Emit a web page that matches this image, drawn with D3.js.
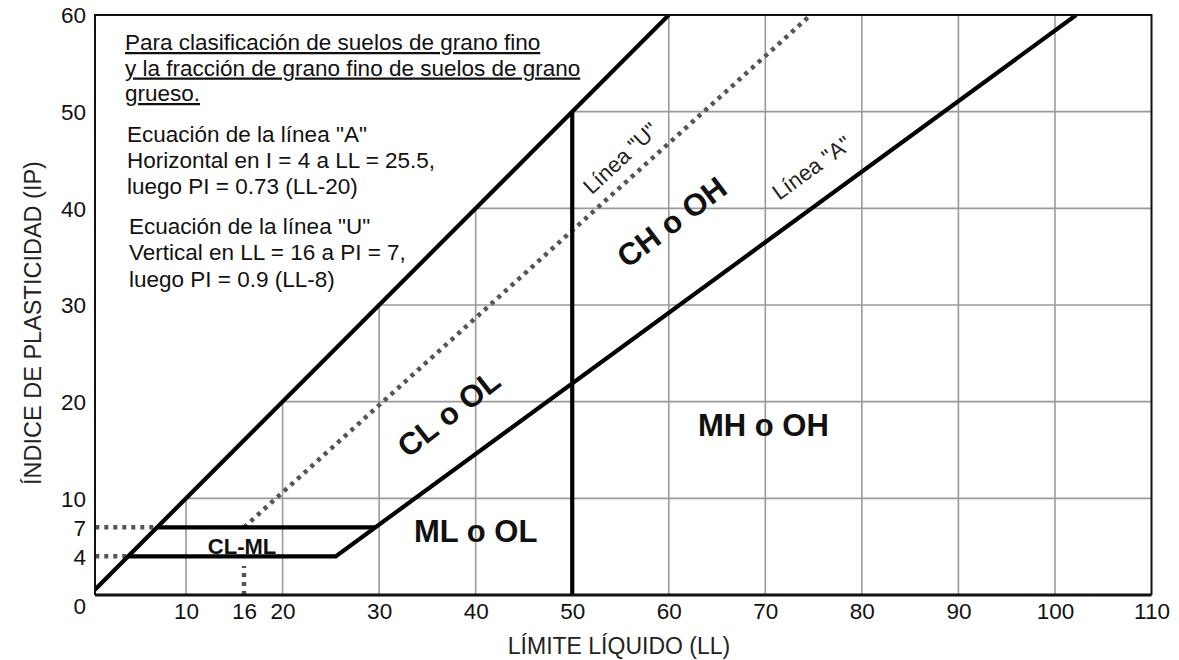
<!DOCTYPE html>
<html>
<head>
<meta charset="utf-8">
<script src="https://cdn.jsdelivr.net/npm/d3@7"></script>
<style>
  html, body { margin: 0; padding: 0; background: #fff; }
  svg { display: block; font-family: "Liberation Sans", Arial, sans-serif; }
</style>
</head>
<body>
<svg id="chart" width="1179" height="660"></svg>
<script>
// Plasticity chart (Casagrande) – liquid limit vs plasticity index

const xTicks = [10, 16, 20, 30, 40, 50, 60, 70, 80, 90, 100, 110];
const yTicks = [0, 4, 7, 10, 20, 30, 40, 50, 60];
const gridLL = [10, 20, 30, 40, 50, 60, 70, 80, 90, 100];
const gridPI = [10, 20, 30, 40, 50];

// Upper limit line PI = LL
const upperLine = [[0, 0], [60, 60]];
// "A" line: horizontal at PI = 4 up to LL = 25.5, then PI = 0.73 (LL - 20)
const aLine = [[4, 4], [25.5, 4], [102.2, 60]];
// "U" line: vertical at LL = 16 up to PI = 7, then PI = 0.9 (LL - 8)
const uLine = [[16, 7], [74.7, 60]];
const uFoot = [[16, 0], [16, 3]];
// CL-ML band upper edge at PI = 7
const clmlTop = [[7, 7], [29.6, 7]];
// LL = 50 divider
const ll50 = [[50, 0], [50, 50]];
// dotted leaders from the PI axis
const leader4 = [[0.6, 4], [4, 4]];
const leader7 = [[0.6, 7], [7, 7]];

const zoneLabels = [
  { text: "CH o OH", LL: 60.3, PI: 38.6, angle: -37, size: 31 },
  { text: "CL o OL", LL: 37.2, PI: 18.8, angle: -38, size: 31 },
  { text: "MH o OH", LL: 69.8, PI: 17.6, angle: 0, size: 31 },
  { text: "ML o OL", LL: 40.0, PI: 6.6, angle: 0, size: 31 },
  { text: "CL-ML", LL: 15.8, PI: 5.0, angle: 0, size: 22 }
];
const lineLabels = [
  { text: "Línea \"U\"", LL: 55.0, PI: 45.2, angle: -43 },
  { text: "Línea \"A\"", LL: 74.8, PI: 44.2, angle: -36 }
];

const noteTitle = [
  "Para clasificación de suelos de grano fino",
  "y la fracción de grano fino de suelos de grano",
  "grueso."
];
const noteA = [
  "Ecuación de la línea \"A\"",
  "Horizontal en I = 4 a LL = 25.5,",
  "luego PI = 0.73 (LL-20)"
];
const noteU = [
  "Ecuación de la línea \"U\"",
  "Vertical en LL = 16 a PI = 7,",
  "luego PI = 0.9 (LL-8)"
];

const svg = d3.select("#chart");
const frame = { left: 95, right: 1151.5, top: 15, bottom: 595 };

const x = d3.scaleLinear().domain([0, 110]).range([89.5, 1151.5]);
const y = d3.scaleLinear().domain([0, 60]).range([frame.bottom, frame.top]);
const line = d3.line().x(d => x(d[0])).y(d => y(d[1]));

svg.append("clipPath").attr("id", "plot-clip")
  .append("rect")
  .attr("x", frame.left).attr("y", frame.top)
  .attr("width", frame.right - frame.left)
  .attr("height", frame.bottom - frame.top);

const plot = svg.append("g").attr("clip-path", "url(#plot-clip)");

// grid only below the PI = LL line
plot.append("g").selectAll("line").data(gridLL).join("line")
  .attr("x1", d => x(d)).attr("x2", d => x(d))
  .attr("y1", y(0)).attr("y2", d => y(Math.min(d, 60)))
  .attr("stroke", "#9a9a9a").attr("stroke-width", 1.6);
plot.append("g").selectAll("line").data(gridPI).join("line")
  .attr("x1", d => x(d)).attr("x2", x(110))
  .attr("y1", d => y(d)).attr("y2", d => y(d))
  .attr("stroke", "#9a9a9a").attr("stroke-width", 1.6);

// frame
svg.append("path")
  .attr("d", `M${frame.left},${frame.bottom}V${frame.top}H${frame.right}V${frame.bottom}`)
  .attr("fill", "none").attr("stroke", "#111").attr("stroke-width", 2);
svg.append("line")
  .attr("x1", frame.left).attr("x2", frame.right)
  .attr("y1", frame.bottom).attr("y2", frame.bottom)
  .attr("stroke", "#111").attr("stroke-width", 3);

// dotted lines
const dotted = [uLine, uFoot, leader4, leader7];
plot.append("g").selectAll("path").data(dotted).join("path")
  .attr("d", line)
  .attr("fill", "none")
  .attr("stroke", "#555")
  .attr("stroke-width", 4.5)
  .attr("stroke-dasharray", "4 5");

// heavy boundary lines
const heavy = [upperLine, aLine, clmlTop, ll50];
plot.append("g").selectAll("path").data(heavy).join("path")
  .attr("d", line)
  .attr("fill", "none")
  .attr("stroke", "#000")
  .attr("stroke-width", 4.2)
  .attr("stroke-linejoin", "miter");

// axes
const yAxis = d3.axisLeft(y).tickValues(yTicks).tickSize(0).tickPadding(9).tickFormat(d3.format("d"));
const yg = svg.append("g").attr("transform", `translate(${frame.left},0)`).call(yAxis);
yg.select(".domain").remove();
yg.selectAll("text")
  .attr("font-size", 22.5).attr("fill", "#111")
  .attr("font-family", "Liberation Sans, Arial, sans-serif")
  .attr("dy", d => d === 0 ? "0.8em" : "0.35em");

const xAxis = d3.axisBottom(x).tickValues(xTicks).tickSize(0).tickPadding(8).tickFormat(d3.format("d"));
const xg = svg.append("g").attr("transform", `translate(0,${frame.bottom})`).call(xAxis);
xg.select(".domain").remove();
xg.selectAll("text")
  .attr("font-size", 22.5).attr("fill", "#111")
  .attr("font-family", "Liberation Sans, Arial, sans-serif");

svg.append("text")
  .attr("x", 619).attr("y", 654)
  .attr("text-anchor", "middle")
  .attr("font-size", 23).attr("fill", "#222")
  .text("LÍMITE LÍQUIDO (LL)");

svg.append("text")
  .attr("transform", "translate(41,323) rotate(-90)")
  .attr("text-anchor", "middle")
  .attr("font-size", 23.5).attr("fill", "#222")
  .text("ÍNDICE DE PLASTICIDAD (IP)");

// zone labels
svg.append("g").selectAll("text").data(zoneLabels).join("text")
  .attr("transform", d => `translate(${x(d.LL)},${y(d.PI)}) rotate(${d.angle})`)
  .attr("text-anchor", "middle")
  .attr("dy", "0.35em")
  .attr("font-weight", "bold")
  .attr("font-size", d => d.size)
  .attr("fill", "#111")
  .text(d => d.text);

svg.append("g").selectAll("text").data(lineLabels).join("text")
  .attr("transform", d => `translate(${x(d.LL)},${y(d.PI)}) rotate(${d.angle})`)
  .attr("text-anchor", "middle")
  .attr("dy", "0.35em")
  .attr("font-size", 22)
  .attr("fill", "#222")
  .text(d => d.text);

// notes
function noteBlock(lines, x0, y0, step, underline) {
  svg.append("g").selectAll("text").data(lines).join("text")
    .attr("x", x0).attr("y", (d, i) => y0 + i * step)
    .attr("font-size", 22.5).attr("fill", "#111")
    .style("text-decoration", underline ? "underline" : null)
    .text(d => d);
}
noteBlock(noteTitle, 125, 50, 25.5, true);
noteBlock(noteA, 127, 142, 26, false);
noteBlock(noteU, 129, 234, 26.3, false);
</script>
</body>
</html>
